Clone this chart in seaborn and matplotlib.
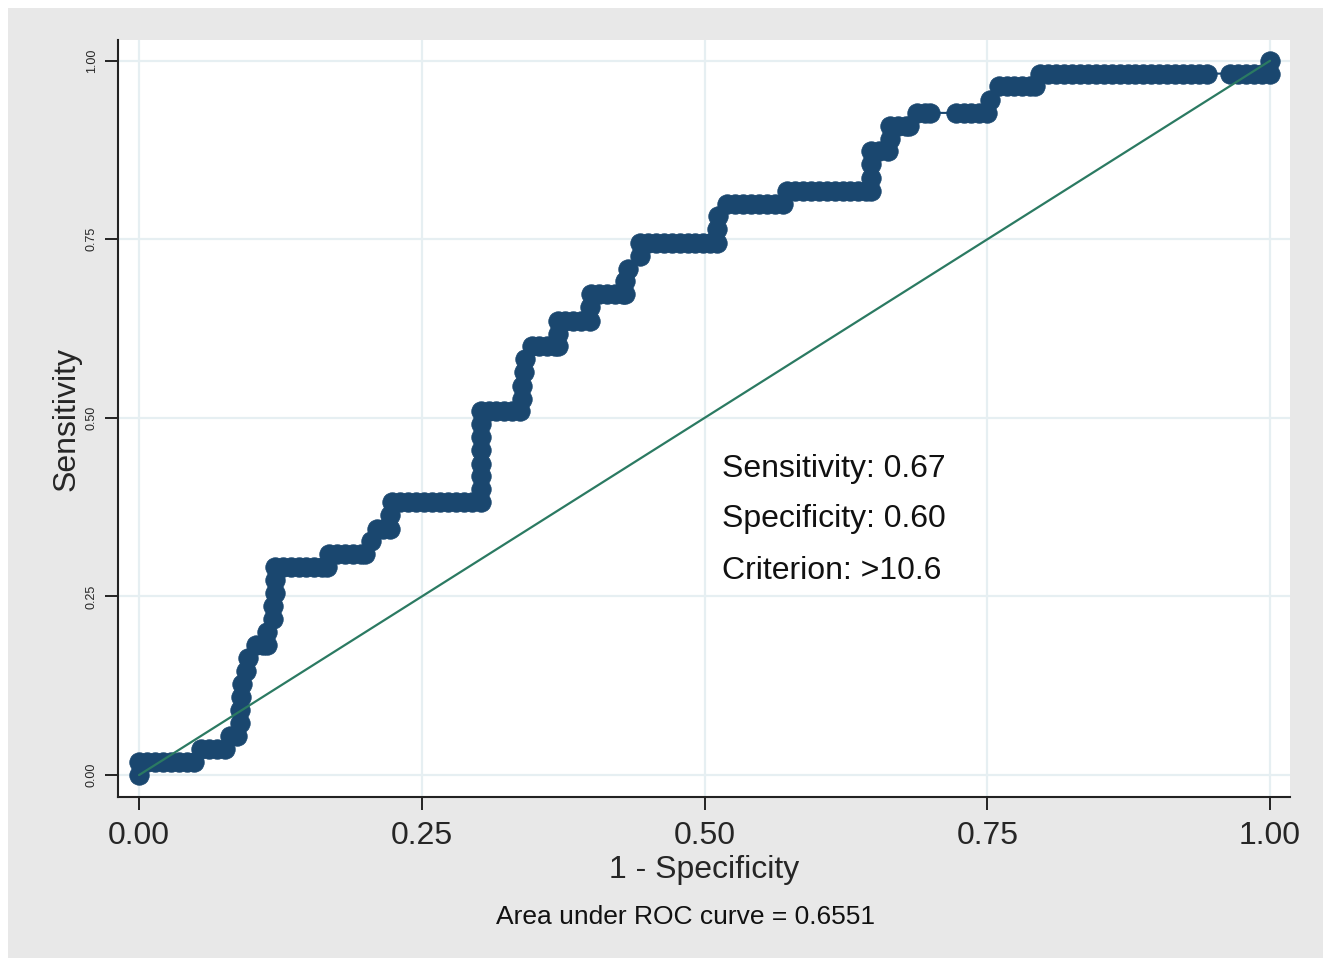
import matplotlib
matplotlib.use("Agg")
import matplotlib.pyplot as plt
from matplotlib.patches import Rectangle
import seaborn as sns
import pandas as pd

# ROC points: 1 - specificity ...
fpr = ([0.000, 0.000, 0.007, 0.014, 0.021, 0.028, 0.035, 0.042, 0.049]
       + [0.055, 0.062, 0.069, 0.076]
       + [0.080, 0.087]
       + [0.089, 0.089, 0.090, 0.091, 0.095, 0.096]
       + [0.103, 0.110, 0.113]
       + [0.113, 0.118, 0.118, 0.120, 0.120, 0.120]
       + [0.127, 0.134, 0.141, 0.148, 0.155, 0.162, 0.166]
       + [0.168, 0.175, 0.182, 0.189, 0.196, 0.200]
       + [0.205, 0.210, 0.216, 0.222, 0.222, 0.224]
       + [0.231, 0.238, 0.245, 0.252, 0.259, 0.266, 0.273, 0.280, 0.287, 0.294, 0.302]
       + [0.302, 0.302, 0.302, 0.302, 0.302, 0.302, 0.302]
       + [0.309, 0.316, 0.323, 0.330, 0.337]
       + [0.339, 0.339, 0.340, 0.341]
       + [0.347, 0.354, 0.361, 0.368, 0.370, 0.370, 0.370]
       + [0.377, 0.384, 0.391, 0.399, 0.399, 0.400]
       + [0.407, 0.414, 0.421, 0.428, 0.430]
       + [0.430, 0.432, 0.443, 0.443]
       + [0.450, 0.457, 0.464, 0.471, 0.478, 0.485, 0.492, 0.499, 0.505, 0.511]
       + [0.511, 0.512]
       + [0.520, 0.527, 0.534, 0.541, 0.548, 0.555, 0.562, 0.569]
       + [0.573, 0.580, 0.587, 0.594, 0.601, 0.608, 0.615, 0.622, 0.629, 0.636, 0.643, 0.647]
       + [0.647, 0.647, 0.647]
       + [0.654, 0.662, 0.664, 0.664]
       + [0.671, 0.678, 0.681]
       + [0.688, 0.695, 0.699]
       + [0.722, 0.729, 0.736, 0.743, 0.750]
       + [0.752, 0.760]
       + [0.767, 0.774, 0.781, 0.788, 0.792]
       + [0.797, 0.804, 0.811, 0.818, 0.825, 0.832, 0.839, 0.846, 0.853, 0.860, 0.867,
          0.874, 0.881, 0.888, 0.895, 0.902, 0.909, 0.916, 0.923, 0.930, 0.937, 0.944]
       + [0.965, 0.972, 0.979, 0.986, 0.993, 1.000]
       + [1.000])

# ... and sensitivity
tpr = ([0.000] + [0.018] * 8
       + [0.036] * 4
       + [0.055] * 2
       + [0.073, 0.091, 0.109, 0.127, 0.145, 0.164]
       + [0.182] * 3
       + [0.200, 0.218, 0.236, 0.255, 0.273, 0.291]
       + [0.291] * 7
       + [0.309] * 6
       + [0.327, 0.345, 0.345, 0.345, 0.364, 0.382]
       + [0.382] * 11
       + [0.400, 0.418, 0.436, 0.455, 0.473, 0.491, 0.509]
       + [0.509] * 5
       + [0.527, 0.545, 0.564, 0.582]
       + [0.600, 0.600, 0.600, 0.600, 0.600, 0.618, 0.636]
       + [0.636, 0.636, 0.636, 0.636, 0.655, 0.673]
       + [0.673] * 5
       + [0.691, 0.709, 0.727, 0.745]
       + [0.745] * 10
       + [0.764, 0.782]
       + [0.800] * 8
       + [0.818] * 12
       + [0.836, 0.855, 0.873]
       + [0.873, 0.873, 0.891, 0.909]
       + [0.909] * 3
       + [0.927] * 3
       + [0.927] * 5
       + [0.945, 0.964]
       + [0.964] * 5
       + [0.982] * 22
       + [0.982] * 6
       + [1.000])

ref_x = [0.0, 1.0]
ref_y = [0.0, 1.0]

ticks = [0.0, 0.25, 0.5, 0.75, 1.0]
tick_labels = ["0.00", "0.25", "0.50", "0.75", "1.00"]

stats_text = ["Sensitivity: 0.67", "Specificity: 0.60", "Criterion: >10.6"]
auc_note = "Area under ROC curve = 0.6551"

assert len(fpr) == len(tpr)
roc = pd.DataFrame({"fpr": fpr, "tpr": tpr})

sns.set_theme(style="white")
plt.rcParams["font.family"] = ["Liberation Sans", "DejaVu Sans"]

navy = "#1a476f"
green = "#2b7a62"

fig = plt.figure(figsize=(13.23, 9.58), dpi=100)
fig.patch.set_facecolor("white")
# grey graph region (white strip on top/left like the screenshot)
fig.add_artist(Rectangle((8 / 1323, 0), 1 - 8 / 1323, 1 - 8 / 958,
                         transform=fig.transFigure, facecolor="#e8e8e8",
                         edgecolor="none", zorder=-10))

ax = fig.add_axes([0.0892, 0.168, 0.8859, 0.7902])
ax.set_facecolor("white")

sns.lineplot(data=roc, x="fpr", y="tpr", sort=False, estimator=None,
             marker="o", markersize=14, markeredgewidth=0.6,
             markeredgecolor=navy, color=navy, linewidth=1.5, ax=ax, zorder=3)
sns.lineplot(x=ref_x, y=ref_y, color=green, linewidth=1.6, ax=ax, zorder=4)

ax.set_xlim(-0.0186, 1.0177)
ax.set_ylim(-0.0308, 1.029)

ax.set_xticks(ticks)
ax.set_xticklabels(tick_labels, fontsize=23)
ax.set_yticks(ticks)
ax.set_yticklabels(tick_labels, fontsize=9, rotation=90, va="center")

ax.grid(True, color="#e6eff2", linewidth=1.6)
ax.set_axisbelow(True)

for side in ["top", "right"]:
    ax.spines[side].set_visible(False)
for side in ["left", "bottom"]:
    ax.spines[side].set_color("#222222")
    ax.spines[side].set_linewidth(1.5)

ax.tick_params(axis="both", which="major", direction="out", length=9.5,
               width=1.4, color="#222222", left=True, bottom=True)
ax.tick_params(axis="x", pad=8)
ax.tick_params(axis="y", pad=5)

ax.set_xlabel("1 - Specificity", fontsize=23)
ax.set_ylabel("Sensitivity", fontsize=23)
ax.xaxis.set_label_coords(0.5, -0.076)
ax.yaxis.set_label_coords(-0.031, 0.5)

for txt, yy in zip(stats_text, [0.429, 0.359, 0.286]):
    ax.text(0.515, yy, txt, fontsize=23, va="center", ha="left", color="#111111")

fig.text(685 / 1323, 1 - 917 / 958, auc_note, fontsize=19,
         ha="center", va="center", color="#111111")

fig.savefig("out.png", dpi=100)
